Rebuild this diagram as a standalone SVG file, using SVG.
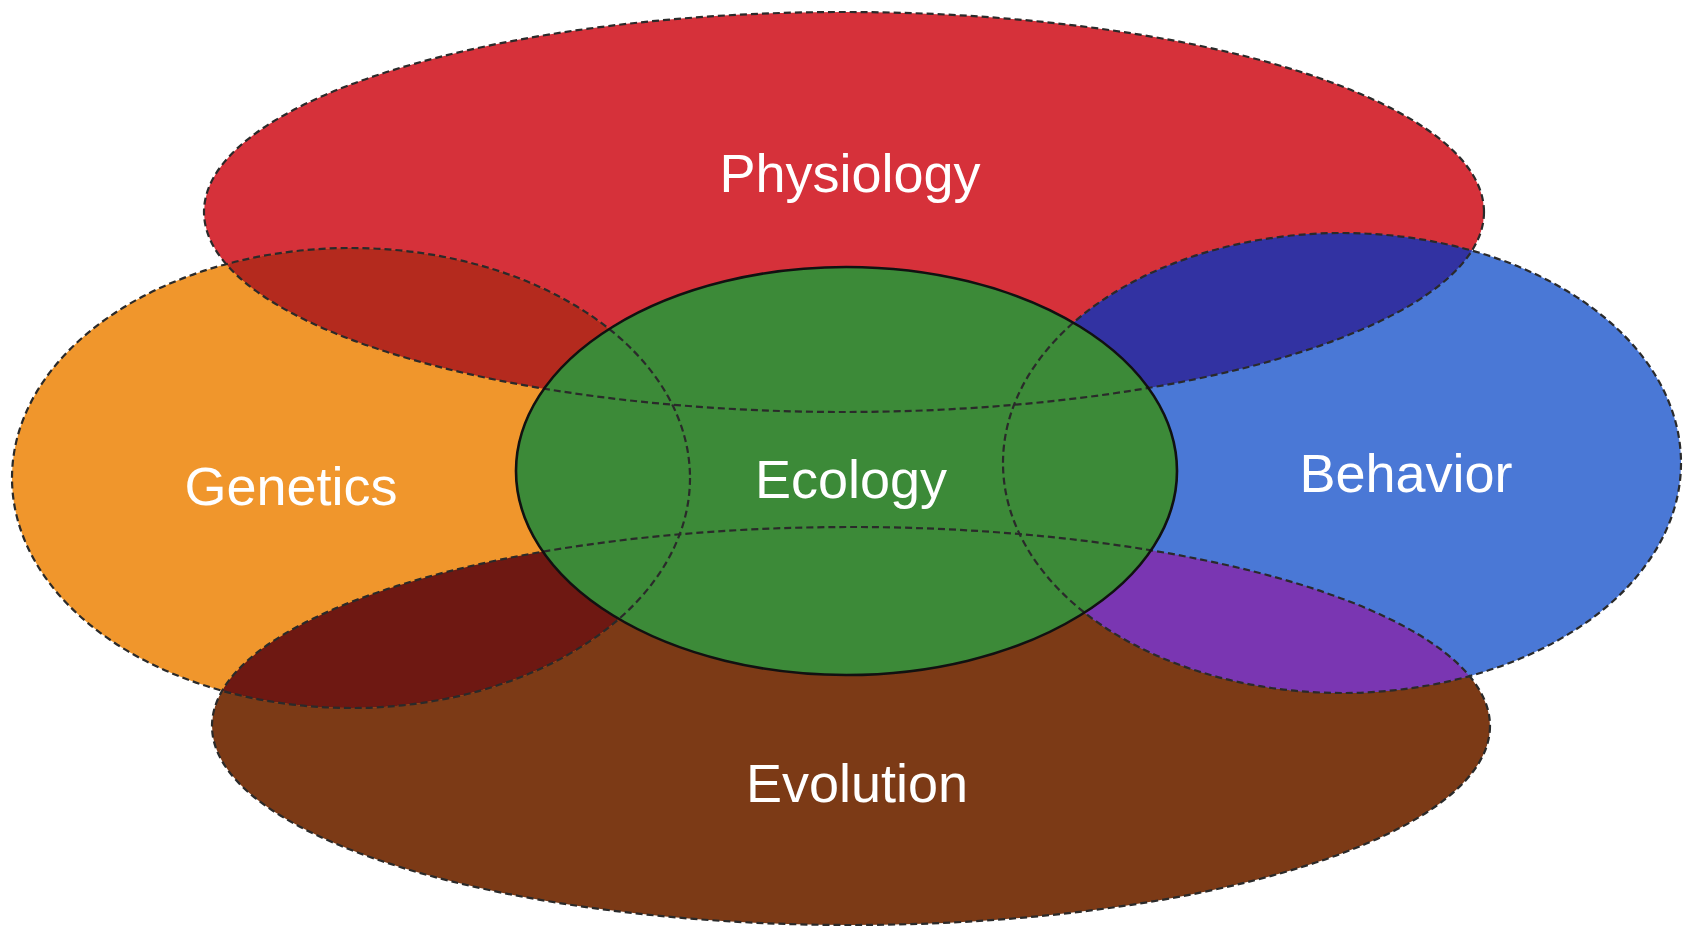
<svg xmlns="http://www.w3.org/2000/svg" width="1690" height="933" viewBox="0 0 1690 933">
<style>
.lbl{font-family:"Liberation Sans",Arial,sans-serif;font-size:54px;fill:#ffffff;text-anchor:middle}
.dash{fill:none;stroke:#2a2a2a;stroke-width:2.2;stroke-dasharray:7 4}
.solid{fill:none;stroke:#111111;stroke-width:2.6}
</style>
<defs>
<clipPath id="cPhys"><ellipse cx="844" cy="212" rx="640" ry="200"/></clipPath>
<clipPath id="cEvo"><ellipse cx="851" cy="726" rx="639" ry="199"/></clipPath>
</defs>
<rect width="1690" height="933" fill="#ffffff"/>
<g id="physiology">
<ellipse cx="844" cy="212" rx="640" ry="200" fill="#d6313a"/>
</g>
<g id="evolution">
<ellipse cx="851" cy="726" rx="639" ry="199" fill="#7c3a16"/>
</g>
<g id="genetics">
<ellipse cx="351" cy="478" rx="339" ry="230" fill="#f0962c"/>
<ellipse cx="351" cy="478" rx="339" ry="230" fill="#b42a1e" clip-path="url(#cPhys)"/>
<ellipse cx="351" cy="478" rx="339" ry="230" fill="#6e1812" clip-path="url(#cEvo)"/>
</g>
<g id="behavior">
<ellipse cx="1342" cy="463" rx="339" ry="230" fill="#4a78d6"/>
<ellipse cx="1342" cy="463" rx="339" ry="230" fill="#3232a2" clip-path="url(#cPhys)"/>
<ellipse cx="1342" cy="463" rx="339" ry="230" fill="#7a36b2" clip-path="url(#cEvo)"/>
</g>
<g id="ecology">
<ellipse cx="846.5" cy="471" rx="330.5" ry="204" fill="#3c8a38"/>
</g>
<g id="outlines">
<ellipse class="dash" cx="844" cy="212" rx="640" ry="200"/>
<ellipse class="dash" cx="851" cy="726" rx="639" ry="199"/>
<ellipse class="dash" cx="351" cy="478" rx="339" ry="230"/>
<ellipse class="dash" cx="1342" cy="463" rx="339" ry="230"/>
<ellipse class="solid" cx="846.5" cy="471" rx="330.5" ry="204"/>
</g>
<g id="labels">
<text class="lbl" x="850" y="192">Physiology</text>
<text class="lbl" x="291" y="505">Genetics</text>
<text class="lbl" x="851" y="498">Ecology</text>
<text class="lbl" x="1406" y="492">Behavior</text>
<text class="lbl" x="857" y="802">Evolution</text>
</g>
</svg>
